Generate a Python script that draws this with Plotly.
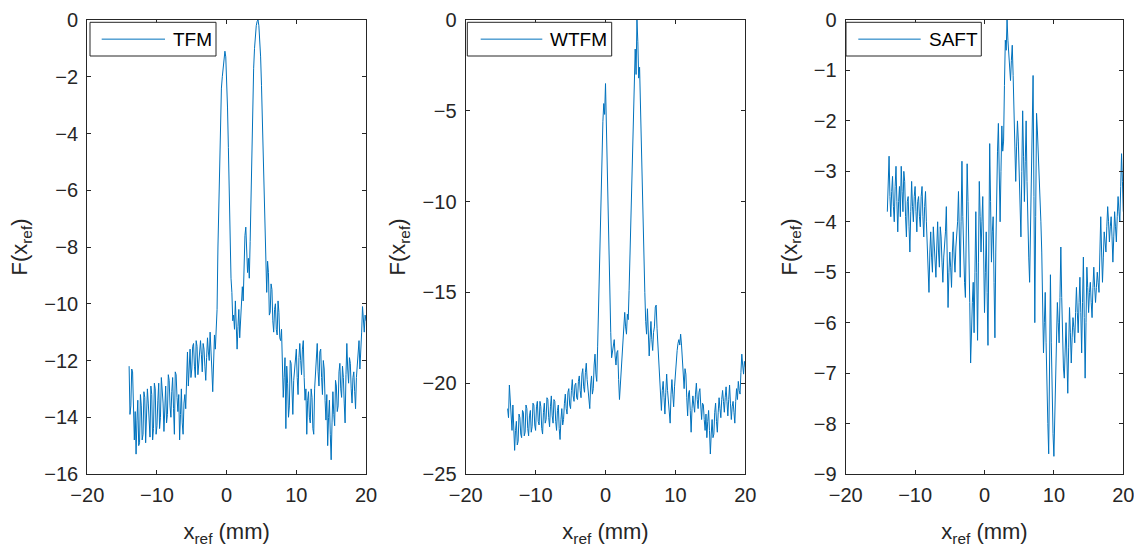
import plotly.graph_objects as go

# sample positions along x_ref (mm)
X_MM = [
    -14.0, -13.875, -13.75, -13.625, -13.5, -13.375, -13.25, -13.125,
    -13.0, -12.875, -12.75, -12.625, -12.5, -12.375, -12.25, -12.125,
    -12.0, -11.875, -11.75, -11.625, -11.5, -11.375, -11.25, -11.125,
    -11.0, -10.875, -10.75, -10.625, -10.5, -10.375, -10.25, -10.125,
    -10.0, -9.875, -9.75, -9.625, -9.5, -9.375, -9.25, -9.125,
    -9.0, -8.875, -8.75, -8.625, -8.5, -8.375, -8.25, -8.125,
    -8.0, -7.875, -7.75, -7.625, -7.5, -7.375, -7.25, -7.125,
    -7.0, -6.875, -6.75, -6.625, -6.5, -6.375, -6.25, -6.125,
    -6.0, -5.875, -5.75, -5.625, -5.5, -5.375, -5.25, -5.125,
    -5.0, -4.875, -4.75, -4.625, -4.5, -4.375, -4.25, -4.125,
    -4.0, -3.875, -3.75, -3.625, -3.5, -3.375, -3.25, -3.125,
    -3.0, -2.875, -2.75, -2.625, -2.5, -2.375, -2.25, -2.125,
    -2.0, -1.875, -1.75, -1.625, -1.5, -1.375, -1.25, -1.125,
    -1.0, -0.875, -0.75, -0.625, -0.5, -0.375, -0.25, -0.125,
    0.0, 0.125, 0.25, 0.375, 0.5, 0.625, 0.75, 0.875,
    1.0, 1.125, 1.25, 1.375, 1.5, 1.625, 1.75, 1.875,
    2.0, 2.125, 2.25, 2.375, 2.5, 2.625, 2.75, 2.875,
    3.0, 3.125, 3.25, 3.375, 3.5, 3.625, 3.75, 3.875,
    4.0, 4.125, 4.25, 4.375, 4.5, 4.625, 4.75, 4.875,
    5.0, 5.125, 5.25, 5.375, 5.5, 5.625, 5.75, 5.875,
    6.0, 6.125, 6.25, 6.375, 6.5, 6.625, 6.75, 6.875,
    7.0, 7.125, 7.25, 7.375, 7.5, 7.625, 7.75, 7.875,
    8.0, 8.125, 8.25, 8.375, 8.5, 8.625, 8.75, 8.875,
    9.0, 9.125, 9.25, 9.375, 9.5, 9.625, 9.75, 9.875,
    10.0, 10.125, 10.25, 10.375, 10.5, 10.625, 10.75, 10.875,
    11.0, 11.125, 11.25, 11.375, 11.5, 11.625, 11.75, 11.875,
    12.0, 12.125, 12.25, 12.375, 12.5, 12.625, 12.75, 12.875,
    13.0, 13.125, 13.25, 13.375, 13.5, 13.625, 13.75, 13.875,
    14.0, 14.125, 14.25, 14.375, 14.5, 14.625, 14.75, 14.875,
    15.0, 15.125, 15.25, 15.375, 15.5, 15.625, 15.75, 15.875,
    16.0, 16.125, 16.25, 16.375, 16.5, 16.625, 16.75, 16.875,
    17.0, 17.125, 17.25, 17.375, 17.5, 17.625, 17.75, 17.875,
    18.0, 18.125, 18.25, 18.375, 18.5, 18.625, 18.75, 18.875,
    19.0, 19.125, 19.25, 19.375, 19.5, 19.625, 19.75, 19.875,
    20.0,
]

TFM = [
    -12.2, -13.9, -13.6, -12.3, -12.4, -14.2, -14.8, -13.8,
    -15.3, -14.1, -13.4, -15.0, -14.9, -13.2, -13.6, -14.8,
    -14.6, -13.1, -13.3, -14.9, -14.2, -13.0, -13.5, -14.3,
    -14.7, -12.9, -13.2, -14.8, -14.4, -12.8, -13.0, -14.6,
    -14.3, -13.4, -12.8, -14.4, -14.0, -12.6, -13.1, -13.5,
    -14.5, -13.3, -12.9, -14.2, -13.9, -12.5, -12.7, -13.6,
    -14.0, -13.1, -12.6, -13.7, -14.6, -12.4, -12.5, -13.3,
    -13.8, -13.2, -14.8, -13.9, -13.0, -14.2, -14.6, -13.5,
    -13.2, -13.7, -12.0, -11.7, -12.9, -12.2, -11.6, -12.6,
    -12.3, -11.5, -11.4, -12.2, -12.6, -11.3, -11.5, -12.5,
    -12.1, -11.6, -11.3, -11.8, -12.4, -11.4, -11.6, -12.2,
    -12.7, -11.9, -11.2, -11.7, -12.0, -11.0, -11.5, -12.3,
    -13.1, -11.9, -11.1, -11.6, -10.6, -10.2, -8.0, -6.5,
    -5.0, -3.6, -2.4, -2.0, -1.6, -1.4, -1.1, -1.3,
    -2.0, -3.1, -4.5, -6.4, -7.9, -9.1, -9.6, -10.6,
    -10.4, -10.9, -9.9, -10.7, -11.6, -10.8, -10.2, -11.2,
    -10.6, -9.8, -9.4, -9.9, -8.6, -7.6, -7.3, -8.1,
    -8.9, -8.4, -9.1, -7.8, -6.2, -4.2, -2.6, -1.7,
    -1.0, -0.5, -0.2, -0.05, 0.0, -0.2, -0.6, -1.3,
    -2.3, -3.6, -5.0, -6.4, -7.6, -8.7, -9.6, -8.5,
    -8.9, -10.4, -10.3, -9.3, -9.5, -10.6, -11.0, -10.2,
    -10.0, -10.9, -11.1, -9.9, -10.3, -11.2, -11.3, -10.9,
    -11.8, -13.3, -12.6, -11.9, -14.4, -12.2, -12.8, -14.0,
    -13.6, -12.0, -12.1, -13.4, -13.9, -12.7, -12.4, -12.0,
    -11.6, -12.6, -13.2, -11.9, -11.4, -12.0, -12.5, -11.6,
    -11.3, -12.6, -13.4, -13.0, -14.6, -13.4, -13.1, -14.0,
    -14.2, -13.0, -13.3, -14.4, -14.6, -13.0, -12.4, -12.0,
    -11.4, -12.4, -12.9, -11.7, -11.6, -12.6, -13.2, -12.0,
    -12.3, -13.4, -14.1, -13.2, -15.0, -14.0, -13.4, -14.6,
    -15.5, -14.2, -13.1, -13.9, -14.3, -12.7, -12.9, -13.8,
    -13.6, -12.4, -12.1, -13.0, -13.3, -12.2, -12.6, -13.5,
    -14.2, -12.5, -11.4, -12.3, -12.8, -11.9, -12.1, -13.0,
    -13.5, -12.6, -12.4, -13.1, -13.7, -12.6, -12.1, -11.8,
    -11.3, -12.3, -11.8, -11.0, -10.1, -10.7, -11.0, -10.4,
    -10.6,
]

WTFM = [
    -21.4, -21.9, -20.1, -20.9, -22.0, -22.6, -21.2, -22.4,
    -23.7, -22.6, -22.1, -23.4, -23.2, -21.7, -21.9, -22.8,
    -23.0, -21.5, -21.6, -22.9, -22.7, -21.2, -21.4, -22.5,
    -22.9, -21.8, -21.5, -22.7, -22.4, -21.1, -21.2, -22.3,
    -22.6, -21.3, -21.0, -22.1, -22.3, -21.0, -21.3, -22.5,
    -22.8, -21.6, -21.1, -22.2, -22.0, -20.8, -20.9, -21.9,
    -22.4, -21.3, -20.7, -21.8, -22.2, -20.9, -21.0, -22.1,
    -22.6, -21.5, -21.2, -22.5, -23.1, -22.0, -21.4, -22.3,
    -22.0, -21.1, -20.6, -21.4, -21.7, -20.5, -20.3, -21.2,
    -21.4, -20.4, -19.8, -20.7, -21.0, -20.1, -20.0, -20.8,
    -20.9, -19.9, -19.6, -20.4, -20.8, -19.5, -19.2, -20.2,
    -20.5, -19.4, -18.9, -19.8, -20.4, -20.9, -21.4, -20.1,
    -19.6, -20.6, -20.3, -19.0, -18.4, -19.5, -19.9, -18.0,
    -15.6, -13.8, -11.9, -9.6, -7.4, -5.6, -4.6, -5.2,
    -3.5, -6.0, -8.5, -11.5, -14.0, -16.2, -17.2, -18.6,
    -18.3, -17.8, -17.6, -18.5, -19.0, -18.3, -18.2, -19.8,
    -20.9, -20.1, -19.3, -18.6, -17.9, -16.8, -16.1, -16.9,
    -17.3, -16.2, -16.5, -14.9, -12.8, -11.0, -9.2, -6.8,
    -4.8, -2.8, -1.6, -3.0, 0.0, -1.2, -3.2, -2.6,
    -5.0, -6.6, -8.5, -10.8, -12.9, -15.0, -16.6, -17.3,
    -15.9, -17.0, -18.5, -17.5, -16.6, -17.6, -18.2, -17.2,
    -16.9, -15.8, -15.7, -17.0, -18.0, -18.6, -19.5, -20.5,
    -21.5, -20.4, -19.9, -20.8, -21.7, -20.5, -19.5, -20.4,
    -20.9, -21.6, -22.2, -20.6, -19.8, -20.6, -21.3, -20.2,
    -19.5, -18.6, -18.2, -17.8, -17.6, -17.9, -17.3, -17.9,
    -18.6, -19.4, -20.3, -19.2, -19.5, -20.8, -21.8, -20.6,
    -20.4, -21.5, -22.7, -21.4, -20.7, -21.2, -21.6, -20.6,
    -20.0, -20.9, -21.4, -20.5, -20.3, -21.2, -22.0, -21.1,
    -21.2, -22.0, -22.6, -21.7, -23.0, -22.1, -21.5, -22.6,
    -23.9, -22.8, -22.0, -23.0, -22.8, -21.6, -21.1, -22.1,
    -22.7, -21.6, -20.8, -21.4, -21.9, -20.9, -20.4, -21.0,
    -21.6, -20.8, -20.2, -21.0, -21.8, -20.9, -20.1, -21.1,
    -22.0, -21.3, -21.0, -21.6, -22.2, -21.0, -20.3, -20.9,
    -19.9, -20.4, -20.6, -19.4, -18.4, -19.0, -19.5, -18.8,
    -19.1,
]

SAFT = [
    -3.8, -3.3, -2.7, -3.5, -3.9, -3.4, -3.1, -3.7,
    -4.0, -3.3, -2.9, -3.6, -4.2, -3.6, -3.3, -3.9,
    -2.9, -3.4, -3.8, -3.0, -3.2, -3.9, -4.3, -3.6,
    -3.5, -4.1, -4.6, -3.8, -3.2, -3.7, -4.0, -3.5,
    -3.3, -3.8, -4.2, -3.6, -3.5, -3.9, -4.1, -3.5,
    -3.3, -3.9, -4.3, -3.7, -3.4, -4.0, -4.5, -4.9,
    -5.4, -4.6, -4.2, -4.7, -5.0, -4.1, -4.4, -4.8,
    -5.1, -4.5, -4.0, -4.6, -4.9, -4.1, -4.3, -4.8,
    -5.2, -4.7, -4.5, -4.2, -3.7, -4.6, -5.7, -5.0,
    -4.6, -4.9, -5.3, -4.6, -4.2, -4.7, -5.0, -4.5,
    -4.3, -4.0, -3.4, -4.3, -5.1, -4.0, -2.8, -3.9,
    -4.8, -5.2, -5.5, -4.0, -2.85, -3.6, -4.4, -5.6,
    -6.8, -6.0, -5.6, -5.2, -6.2, -5.0, -3.8, -5.0,
    -6.35, -4.8, -3.2, -3.9, -4.6, -4.0, -3.5, -4.6,
    -5.8, -5.0, -4.2, -5.4, -6.45, -4.5, -2.45, -3.6,
    -4.8, -4.2, -3.9, -5.2, -6.3, -4.6, -3.2, -2.6,
    -2.05, -3.0, -4.0, -3.0, -2.1, -2.6, -2.4, -1.3,
    -0.4, -0.6, 0.0, -0.4, -0.7, -0.9, -1.2, -0.8,
    -0.5, -1.1, -1.8, -2.6, -3.2, -2.5, -2.0, -2.4,
    -3.0, -3.7, -4.3, -3.0, -1.8, -2.7, -3.6, -2.8,
    -2.0, -3.2, -4.3, -4.7, -5.2, -4.3, -3.5, -2.3,
    -1.1, -3.5, -6.0, -3.9, -1.85, -2.2, -2.6, -3.0,
    -3.4, -4.0, -4.6, -5.6, -6.6, -6.0, -5.4, -6.4,
    -7.5, -8.0, -8.6, -6.9, -5.05, -6.4, -7.8, -8.2,
    -8.65, -8.0, -7.2, -6.4, -5.6, -6.0, -6.4, -5.5,
    -4.5, -5.5, -6.6, -6.9, -7.1, -6.5, -6.0, -6.7,
    -7.4, -6.5, -5.7, -6.2, -6.8, -6.3, -5.9, -6.1,
    -6.4, -5.8, -5.3, -5.8, -6.2, -5.6, -5.1, -5.8,
    -6.6, -5.6, -4.7, -5.9, -7.1, -6.0, -4.9, -5.3,
    -5.8, -5.4, -5.2, -5.6, -5.9, -5.3, -4.9, -5.3,
    -5.6, -5.3, -5.0, -5.2, -5.4, -4.6, -3.9, -4.6,
    -5.2, -4.7, -4.2, -4.4, -4.6, -4.1, -3.7, -4.0,
    -4.4, -4.1, -3.9, -4.3, -4.8, -4.3, -3.8, -4.1,
    -4.4, -3.9, -3.5, -3.8, -4.0, -3.3, -2.65, -3.2,
    -3.8,
]

NAMES = ["TFM", "WTFM", "SAFT"]
Y_RANGES = [[-16, 0], [-25, 0], [-9, 0]]
Y_DTICKS = [2, 5, 1]
X_RANGE = [-20, 20]
X_DTICK = 10

W, H = 1134, 547
# axes boxes in pixels (left, right); all share top=20, bottom=474
AX_PX = [(87.3, 366.0), (465.7, 745.3), (845.7, 1123.3)]
AX_TOP, AX_BOT = 20, 474
# legend boxes in pixels: (box_left, box_right, line_start, line_end, text_x)
LEG_PX = [(90, 216, 101.7, 165, 170.5),
          (467.3, 611.7, 480.7, 542.3, 548.3),
          (846, 981.3, 858.3, 920.7, 926.7)]
LEG_TOP, LEG_BOT = 22.3, 56

LINE_COLOR = "#0072BD"
AX_COLOR = "#262626"
FONT = "Liberation Sans, Arial, sans-serif"


def px(x):
    return x / W


def py(y):
    return 1 - y / H


fig = go.Figure()
shapes, annotations = [], []
for i, (name, vals) in enumerate(zip(NAMES, [TFM, WTFM, SAFT])):
    assert len(vals) == len(X_MM), (name, len(vals))
    sfx = "" if i == 0 else str(i + 1)
    fig.add_trace(go.Scatter(
        x=X_MM, y=vals, mode="lines", name=name, showlegend=False,
        line=dict(color=LINE_COLOR, width=1),
        xaxis="x" + sfx, yaxis="y" + sfx,
    ))
    common = dict(
        showline=True, linecolor=AX_COLOR, linewidth=1.3, mirror="ticks",
        ticks="inside", ticklen=4, tickwidth=1.3, tickcolor=AX_COLOR,
        showgrid=False, zeroline=False, automargin=False,
        ticklabeloverflow="allow",
        tickfont=dict(family=FONT, size=20, color=AX_COLOR),
    )
    l, r = AX_PX[i]
    fig.update_layout({
        "xaxis" + sfx: dict(
            domain=[px(l), px(r)], range=X_RANGE, dtick=X_DTICK, tick0=0,
            anchor="y" + sfx, ticklabelstandoff=3,
            title=dict(text="x<sub>ref</sub> (mm)", standoff=20,
                       font=dict(family=FONT, size=22, color=AX_COLOR)),
            **common),
        "yaxis" + sfx: dict(
            domain=[py(AX_BOT), py(AX_TOP)], range=Y_RANGES[i],
            dtick=Y_DTICKS[i], tick0=0, anchor="x" + sfx,
            ticklabelstandoff=4,
            title=dict(text="F(x<sub>ref</sub>)", standoff=10,
                       font=dict(family=FONT, size=22, color=AX_COLOR)),
            **common),
    })
    # legend box drawn like the reference (long line sample)
    bl, br, ls, le, tx = LEG_PX[i]
    ymid = (LEG_TOP + LEG_BOT) / 2
    shapes.append(dict(type="rect", xref="paper", yref="paper",
                       x0=px(bl), x1=px(br), y0=py(LEG_BOT), y1=py(LEG_TOP),
                       line=dict(color=AX_COLOR, width=1), fillcolor="white",
                       layer="above"))
    shapes.append(dict(type="line", xref="paper", yref="paper",
                       x0=px(ls), x1=px(le), y0=py(ymid), y1=py(ymid),
                       line=dict(color=LINE_COLOR, width=1), layer="above"))
    annotations.append(dict(text=name, xref="paper", yref="paper",
                            x=px(tx), y=py(ymid), xanchor="left",
                            yanchor="middle", showarrow=False,
                            font=dict(family=FONT, size=19, color="black")))

fig.update_layout(
    width=W, height=H,
    margin=dict(l=0, r=0, t=0, b=0),
    paper_bgcolor="white", plot_bgcolor="white",
    showlegend=False,
    shapes=shapes, annotations=annotations,
)

fig.write_html("out.html")
